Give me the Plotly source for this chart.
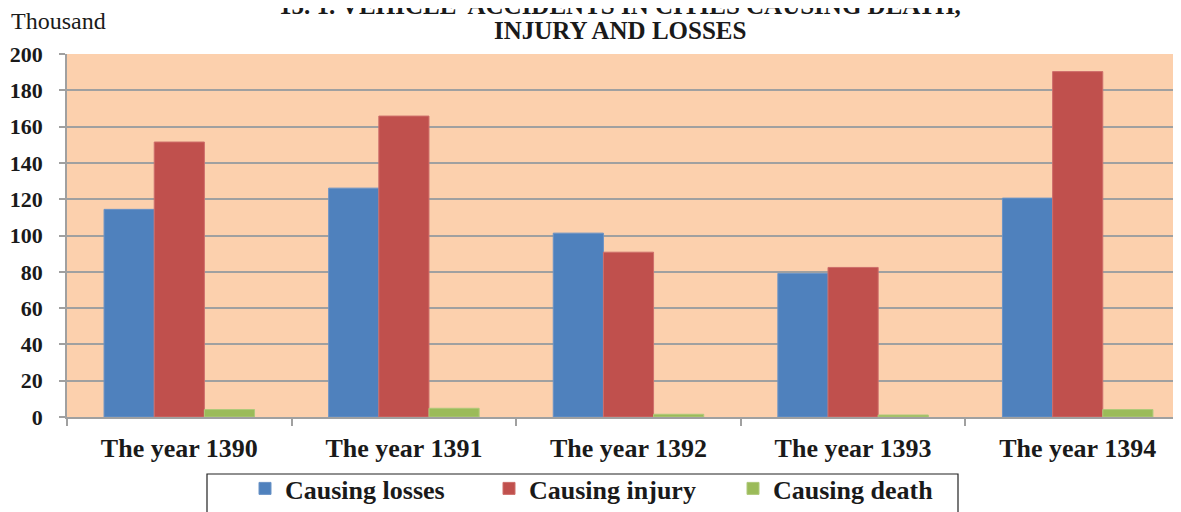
import plotly.graph_objects as go

categories = ["The year 1390", "The year 1391", "The year 1392", "The year 1393", "The year 1394"]
causing_losses = [114.4, 126.1, 101.3, 79.1, 120.6]
causing_injury = [151.5, 165.8, 90.8, 82.4, 190.3]
causing_death = [4.1, 4.8, 1.5, 1.1, 4.1]
y_ticks = [0, 20, 40, 60, 80, 100, 120, 140, 160, 180, 200]

SERIF = "Liberation Serif, Times New Roman, serif"
OFF = 8  # default page body margin
W, H = 1181 - OFF, 512 - OFF
L, R, T = 67 - OFF, 0, 54 - OFF
B = H - (417 - OFF)
pw, ph = W - L - R, H - T - B


def px(x):  # reference screen x -> paper
    return (x - OFF - L) / pw


def py(y):  # reference screen y -> paper
    return (H - B - (y - OFF)) / ph


fig = go.Figure()
for name, vals, col, edge in [
    ("Causing losses", causing_losses, "#4F81BD", "#6B93C6"),
    ("Causing injury", causing_injury, "#C0504D", "#CE6E6B"),
    ("Causing death", causing_death, "#9BBB59", "#AFC97A"),
]:
    fig.add_trace(go.Bar(x=categories, y=vals, name=name,
                         marker=dict(color=col, line=dict(color=edge, width=1))))

fig.update_layout(
    width=W, height=H,
    margin=dict(l=L, r=R, t=T, b=B),
    paper_bgcolor="white",
    plot_bgcolor="#FCD0AD",
    barmode="group",
    bargap=0.33,
    bargroupgap=0,
    font=dict(family=SERIF, color="#1a1a1a"),
    showlegend=True,
    legend=dict(orientation="h", x=px(245), y=py(465), xanchor="left", yanchor="top",
                font=dict(family=SERIF, size=26, color="#1a1a1a", weight="bold"),
                bgcolor="rgba(0,0,0,0)", borderwidth=0, entrywidth=199, entrywidthmode="pixels",
                traceorder="normal"),
    xaxis=dict(range=[-0.5, 4.46], showgrid=False, showline=True, linecolor="#A0A0A0", linewidth=1.5,
               ticks="outside", tickson="boundaries", ticklen=7, tickcolor="#A0A0A0", tickwidth=1.5,
               ticklabelstandoff=7,
               tickfont=dict(family=SERIF, size=26, color="#1a1a1a", weight="bold")),
    yaxis=dict(range=[0, 200], tickvals=y_ticks, showgrid=True, gridcolor="#A0A0A0", gridwidth=1.5,
               showline=True, linecolor="#A0A0A0", linewidth=1.5, zeroline=False,
               ticks="outside", ticklen=6, tickcolor="#A0A0A0", tickwidth=1.5,
               ticklabelstandoff=12,
               tickfont=dict(family=SERIF, size=22, color="#1a1a1a", weight="bold")),
)

fig.add_shape(type="rect", xref="paper", yref="paper",
              x0=px(207), x1=px(958), y0=py(474), y1=py(530),
              line=dict(color="#222222", width=1.2), fillcolor="rgba(0,0,0,0)", layer="above")

fig.add_annotation(text="15. 1. VEHICLE  ACCIDENTS IN CITIES CAUSING DEATH,", xref="paper", yref="paper",
                   x=px(620), y=py(5), xanchor="center", yanchor="middle", showarrow=False,
                   font=dict(family=SERIF, size=25, color="#1a1a1a", weight="bold"))
fig.add_annotation(text="INJURY AND LOSSES", xref="paper", yref="paper",
                   x=px(620), y=py(30), xanchor="center", yanchor="middle", showarrow=False,
                   font=dict(family=SERIF, size=25, color="#1a1a1a", weight="bold"))
fig.add_annotation(text="Thousand", xref="paper", yref="paper",
                   x=px(9), y=py(21), xanchor="left", yanchor="middle", showarrow=False,
                   font=dict(family=SERIF, size=24, color="#1a1a1a"))

fig.write_html("out.html")
